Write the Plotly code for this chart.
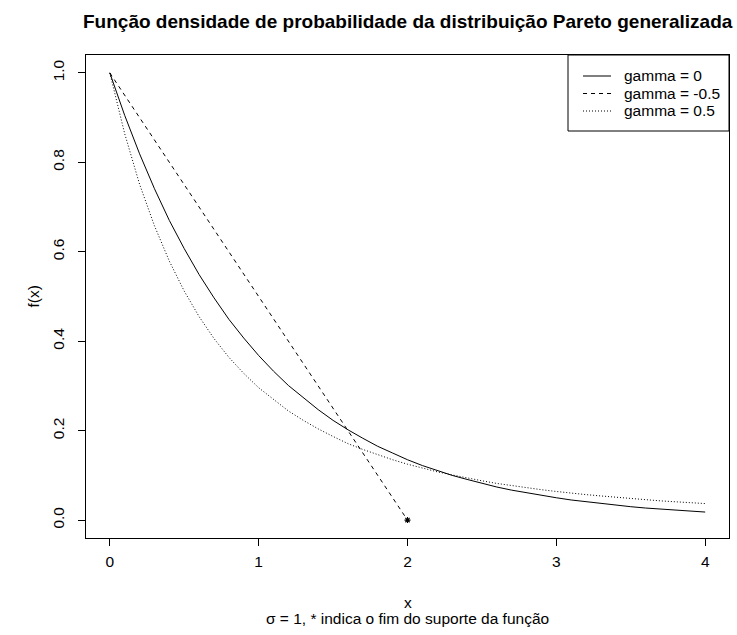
import plotly.graph_objects as go

x_vals = [round(0.1 * i, 1) for i in range(41)]
f_gamma_0 = [1.000, 0.905, 0.819, 0.741, 0.670, 0.607, 0.549, 0.497, 0.449, 0.407,
             0.368, 0.333, 0.301, 0.273, 0.247, 0.223, 0.202, 0.183, 0.165, 0.150,
             0.135, 0.122, 0.111, 0.100, 0.091, 0.082, 0.074, 0.067, 0.061, 0.055,
             0.050, 0.045, 0.041, 0.037, 0.033, 0.030, 0.027, 0.025, 0.022, 0.020, 0.018]
f_gamma_p05 = [1.000, 0.864, 0.751, 0.658, 0.579, 0.512, 0.455, 0.406, 0.364, 0.328,
               0.296, 0.269, 0.244, 0.223, 0.204, 0.187, 0.171, 0.158, 0.146, 0.135,
               0.125, 0.116, 0.108, 0.101, 0.094, 0.088, 0.082, 0.077, 0.072, 0.068,
               0.064, 0.060, 0.057, 0.054, 0.051, 0.048, 0.046, 0.043, 0.041, 0.039, 0.037]
x_neg = [0.0, 0.5, 1.0, 1.5, 2.0]
f_gamma_m05 = [1.00, 0.75, 0.50, 0.25, 0.00]
support_end_x = [2.0]
support_end_y = [0.0]

series_names = ["gamma = 0", "gamma = -0.5", "gamma = 0.5"]
series_dash = ["solid", "4px,4px", "1px,2px"]

x_ticks = [0, 1, 2, 3, 4]
y_ticks = [0.0, 0.2, 0.4, 0.6, 0.8, 1.0]
y_tick_text = ["0.0", "0.2", "0.4", "0.6", "0.8", "1.0"]

FONT = "Liberation Sans, Arial, sans-serif"
FS = 15.5

# plot area in pixels (for placing the legend like R's "topright" legend)
L, R, T, B = 86, 729, 55, 538
W, H = R - L, B - T
def px(xp):
    return (xp - L) / W
def py(yp):
    return (B - yp) / H

fig = go.Figure()
fig.add_trace(go.Scatter(x=x_vals, y=f_gamma_0, mode="lines", name=series_names[0],
                         showlegend=False, line=dict(color="black", width=1, dash=series_dash[0])))
fig.add_trace(go.Scatter(x=x_neg, y=f_gamma_m05, mode="lines", name=series_names[1],
                         showlegend=False, line=dict(color="black", width=1, dash=series_dash[1])))
fig.add_trace(go.Scatter(x=x_vals, y=f_gamma_p05, mode="lines", name=series_names[2],
                         showlegend=False, line=dict(color="black", width=1, dash=series_dash[2])))
fig.add_trace(go.Scatter(x=support_end_x, y=support_end_y, mode="markers", showlegend=False,
                         marker=dict(symbol="asterisk-open", size=5, color="black",
                                     line=dict(color="black", width=1.1))))

axis_common = dict(showline=True, mirror=True, linecolor="black", linewidth=1,
                   ticks="outside", ticklen=7, tickcolor="black", showgrid=False,
                   zeroline=False, tickfont=dict(family=FONT, size=FS, color="black"))

shapes = [dict(type="rect", xref="paper", yref="paper", x0=px(568), x1=1.0, y0=py(131), y1=1.0,
               line=dict(color="black", width=1), fillcolor="white", layer="above")]
annotations = []
row_y = [76, 93.5, 111]
for name, dash, ry in zip(series_names, series_dash, row_y):
    shapes.append(dict(type="line", xref="paper", yref="paper", x0=px(583), x1=px(611),
                       y0=py(ry), y1=py(ry), line=dict(color="black", width=1, dash=dash),
                       layer="above"))
    annotations.append(dict(text=name, xref="paper", yref="paper", x=px(622), y=py(ry),
                            showarrow=False, xanchor="left", yanchor="middle",
                            font=dict(family=FONT, size=FS)))

annotations += [
    dict(text="<b>Função densidade de probabilidade da distribuição Pareto generalizada</b>",
         xref="paper", yref="paper", x=0.5, y=1, yshift=34, showarrow=False,
         xanchor="center", yanchor="middle", font=dict(family=FONT, size=19)),
    dict(text="x", xref="paper", yref="paper", x=0.5, y=0, yshift=-64,
         showarrow=False, xanchor="center", yanchor="middle", font=dict(family=FONT, size=FS)),
    dict(text="σ = 1, * indica o fim do suporte da função", xref="paper", yref="paper",
         x=0.5, y=0, yshift=-80, showarrow=False, xanchor="center", yanchor="middle",
         font=dict(family=FONT, size=FS)),
    dict(text="f(x)", xref="paper", yref="paper", x=0, xshift=-53, y=0.5,
         showarrow=False, textangle=-90, xanchor="center", yanchor="middle",
         font=dict(family=FONT, size=FS)),
]

fig.update_layout(
    width=737, height=635,
    margin=dict(l=L, r=737 - R, t=T, b=635 - B),
    paper_bgcolor="white", plot_bgcolor="white",
    font=dict(family=FONT, size=FS, color="black"),
    xaxis=dict(range=[-0.16, 4.16], tickvals=x_ticks, ticklabelstandoff=2, **axis_common),
    yaxis=dict(range=[-0.04, 1.04], tickvals=y_ticks, ticktext=y_tick_text,
               tickangle=-90, ticklabelstandoff=8, **axis_common),
    showlegend=False,
    shapes=shapes,
    annotations=annotations,
)

fig.write_html("out.html")
